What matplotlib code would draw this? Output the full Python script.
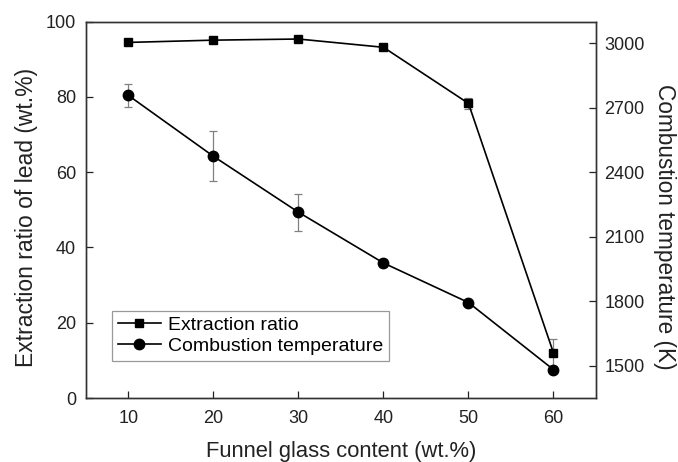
import numpy as np
import matplotlib
matplotlib.use('Agg')
import matplotlib.pyplot as plt
from matplotlib.lines import Line2D

plt.rcParams['font.family'] = ['Liberation Sans', 'DejaVu Sans']

content = [10, 20, 30, 40, 50, 60]
extraction = [94.5, 95.1, 95.4, 93.2, 78.3, 12.0]
extraction_err = [0.5, 0.5, 0.5, 0.8, 1.5, 3.6]
temperature = [2757, 2474, 2214, 1978, 1794, 1482]
temperature_err = [53, 116, 87, 20, 10, 10]

fig = plt.figure(figsize=(6.78, 4.62), dpi=100)
ax1 = fig.add_axes([0.1268, 0.1385, 0.7522, 0.8145])
ax2 = ax1.twinx()

ax1.errorbar(content, extraction, yerr=extraction_err, color='black', ecolor='#808080',
             elinewidth=0.9, capsize=3, capthick=0.9, lw=1.2, marker='s', ms=6)
ax2.errorbar(content, temperature, yerr=temperature_err, color='black', ecolor='#808080',
             elinewidth=0.9, capsize=3, capthick=0.9, lw=1.2, marker='o', ms=7.5)

ax1.set_xlim(5, 65)
ax1.set_ylim(0, 100)
ax2.set_ylim(1350, 3100)
ax1.set_xticks(content)
ax1.set_yticks([0, 20, 40, 60, 80, 100])
ax2.set_yticks([1500, 1800, 2100, 2400, 2700, 3000])

for ax in (ax1, ax2):
    ax.tick_params(direction='in', length=5, width=0.9, labelsize=13, colors='#222222')
    for s in ax.spines.values():
        s.set_linewidth(1.0)
        s.set_color('#333333')
ax1.tick_params(axis='x', pad=8.5)
ax1.tick_params(axis='y', pad=7)
ax2.tick_params(axis='y', pad=6)

ax1.set_xlabel('Funnel glass content (wt.%)', fontsize=15.8, color='#222222', va='center')
ax1.set_ylabel('Extraction ratio of lead (wt.%)', fontsize=16.5, color='#222222', va='center')
ax2.set_ylabel('Combustion temperature (K)', fontsize=16.3, rotation=270, color='#222222', va='center')
ax1.xaxis.set_label_coords(0.5, -0.142)
ax1.yaxis.set_label_coords(-0.1157, 0.481)
ax2.yaxis.set_label_coords(1.135, 0.454)

handles = [Line2D([], [], color='black', lw=1.2, marker='s', ms=6),
           Line2D([], [], color='black', lw=1.2, marker='o', ms=7.5)]
labels = ['Extraction ratio', 'Combustion temperature']
leg = ax1.legend(handles, labels, loc='upper left', bbox_to_anchor=(0.051, 0.232),
                 fontsize=14, frameon=True, fancybox=False, handlelength=2.2,
                 borderpad=0.3, labelspacing=0.15, handletextpad=0.4, borderaxespad=0)
leg.get_frame().set_edgecolor('#808080')
leg.get_frame().set_linewidth(0.9)

fig.savefig('out.png', dpi=100)
